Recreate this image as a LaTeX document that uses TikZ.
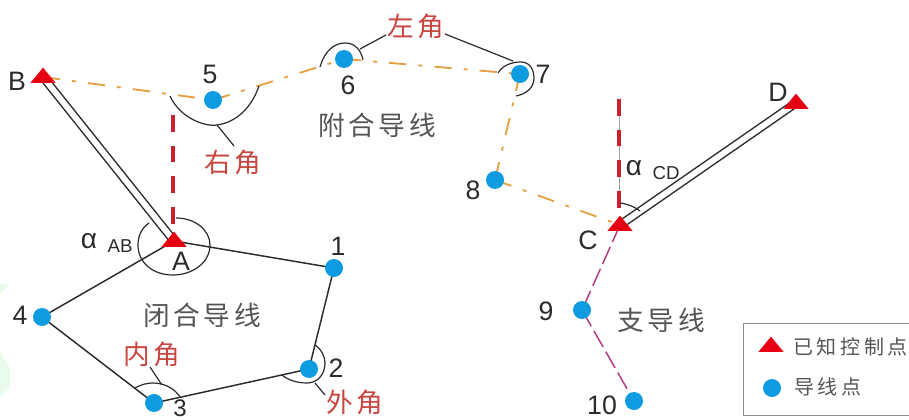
\documentclass[tikz,border=0pt]{standalone}
\usepackage{fontspec}
\setmainfont{Liberation Sans}
\newfontfamily\cjk[LetterSpace=14]{Noto Sans CJK SC}
\newfontfamily\cjksmall[LetterSpace=18]{Noto Sans CJK SC}
\usetikzlibrary{shapes.geometric,backgrounds}
\definecolor{ptblue}{HTML}{0F9BE0}
\definecolor{ptred}{HTML}{E60012}
\definecolor{dashred}{HTML}{C8202E}
\definecolor{lblred}{HTML}{C9453F}
\definecolor{ptorange}{HTML}{E5A144}
\definecolor{ptmag}{HTML}{B23A80}
\definecolor{inkc}{HTML}{2B2B2B}
\definecolor{grayc}{HTML}{555555}
\definecolor{wmgreen}{HTML}{E9FCEB}
\tikzset{
  x=0.75pt,y=-0.75pt,
  ctrl/.style={isosceles triangle,isosceles triangle stretches,shape border rotate=90,fill=ptred,draw=none,
     minimum height=11.5pt,minimum width=19pt,inner sep=0pt,outer sep=0pt},
  trav/.style={circle,fill=ptblue,draw=none,minimum size=13.5pt,inner sep=0pt,outer sep=0pt},
  lab/.style={font=\fontsize{20}{22}\selectfont,text=inkc,inner sep=0pt},
  sublab/.style={font=\fontsize{14}{16}\selectfont,text=inkc,inner sep=0pt},
  alpha/.style={font=\fontsize{21}{22}\selectfont,text=inkc,inner sep=0pt},
  redlab/.style={font=\cjk\fontsize{20}{22}\selectfont,text=lblred,inner sep=0pt},
  graylab/.style={font=\cjk\fontsize{20}{22}\selectfont,text=grayc,inner sep=0pt},
  leglab/.style={font=\cjksmall\fontsize{15}{17}\selectfont,text=grayc,inner sep=0pt},
  known/.style={draw=inkc,line width=1.1pt,double=white,double distance=4.4pt},
  solidl/.style={draw=inkc,line width=1.1pt},
  arcl/.style={draw=inkc,line width=0.9pt},
  orangel/.style={draw=ptorange,line width=1.4pt,dash pattern=on 13pt off 9pt on 3pt off 9pt},
  magl/.style={draw=ptmag,line width=1.1pt,dash pattern=on 14pt off 4pt},
  redl/.style={draw=dashred,line width=2.8pt,dash pattern=on 12.5pt off 10.5pt},
}
\begin{document}
\begin{tikzpicture}
\useasboundingbox (0,0) rectangle (909,420);
% faint remnants at the left edge
\fill[wmgreen] (0,284) -- (9,284) -- (0,295) -- cycle;
\fill[wmgreen] (0,352) -- (10,368) -- (10,387) -- (0,397) -- cycle;
% points
\node[ctrl] (B) at (43,77) {};
\node[ctrl] (A) at (174,241) {};
\node[ctrl] (C) at (620,225) {};
\node[ctrl] (D) at (796,103) {};
\node[trav] (p1) at (334,268) {};
\node[trav] (p2) at (309,369) {};
\node[trav] (p3) at (154,403) {};
\node[trav] (p4) at (42,317) {};
\node[trav] (p5) at (213,100) {};
\node[trav] (p6) at (344,59) {};
\node[trav] (p7) at (520,74) {};
\node[trav] (p8) at (495,180) {};
\node[trav] (p9) at (582,310) {};
\node[trav] (p10) at (634,401) {};
\coordinate (northA) at (173,115);
\coordinate (northAend) at (173,226);
\coordinate (northC) at (619,99);
\coordinate (northCend) at (619,208);
% legend
\node[draw=black!45,line width=0.7pt,inner sep=0pt,fill=white,
  minimum width=128.25pt,minimum height=69pt,anchor=north west] (leg) at (743,323) {};
\node[ctrl] (legT) at (771,346) {};
\node[trav] (legC) at (772,388) {};
\node[leglab,anchor=west] (legt1) at (793,347) {已知控制点};
\node[leglab,anchor=west] (legt2) at (794,387) {导线点};
% labels
\node[lab] (lB) at (17,81) {B};
\node[lab] (lA) at (181,261) {A};
\node[lab] (lC) at (588,240) {C};
\node[lab] (lD) at (778,92) {D};
\node[lab] (l1) at (338,246) {1};
\node[lab] (l2) at (336,368) {2};
\node[lab,font=\fontsize{18}{20}\selectfont] (l3) at (180,408) {3};
\node[lab] (l4) at (20,315) {4};
\node[lab] (l5) at (210,74) {5};
\node[lab] (l6) at (348,85) {6};
\node[lab] (l7) at (543,74) {7};
\node[lab] (l8) at (473,190) {8};
\node[lab] (l9) at (546,311) {9};
\node[lab] (l10) at (602,405) {10};
\node[alpha] (aAB) at (89,241) {α};
\node[sublab] (sAB) at (120,246) {AB};
\node[alpha] (aCD) at (634,168) {α};
\node[sublab] (sCD) at (666,173) {CD};
\node[redlab] (zuo) at (416,26) {左角};
\node[redlab] (you) at (233,162) {右角};
\node[redlab] (nei) at (152,354) {内角};
\node[redlab] (wai) at (355,402) {外角};
\node[graylab] (fu) at (377,125) {附合导线};
\node[graylab] (bi) at (202,315) {闭合导线};
\node[graylab] (zhi) at (661,320) {支导线};
\begin{scope}[on background layer]
  % known directions
  \draw[known] (B.center) -- (A.center);
  \draw[known] (C.center) -- (D.center);
  % north lines
  \draw[draw=gray!70,line width=0.5pt] (northC) -- (northCend);
  \draw[redl] (northA) -- (northAend);
  \draw[redl] (northC) -- (northCend);
  % closed traverse
  \draw[solidl] (A.center) -- (p1.center) -- (p2.center) -- (p3.center) -- (p4.center) -- (A.center);
  % connecting traverse
  \draw[orangel] (B.center) -- (p5.center);
  \draw[orangel] (p5.center) -- (p6.center);
  \draw[orangel] (p6.center) -- (p7.center);
  \draw[orangel] (p7.center) -- (p8.center);
  \draw[orangel] (p8.center) -- (C.center);
  % open traverse
  \draw[magl] (C.center) -- (p9.center);
  \draw[magl] (p9.center) -- (p10.center);
  % angle arcs
  \draw[arcl] (170,96) .. controls (180,118) and (205,127) .. (217,125) .. controls (238,122) and (252,106) .. (259,86);
  \draw[arcl] (217,125) -- (234,146);
  \draw[arcl] (320,67) .. controls (325,50) and (335,43) .. (345,43) .. controls (355,43) and (361,50) .. (363,60);
  \draw[arcl] (360,49) -- (386,35);
  \draw[arcl] (445,34) -- (513,61);
  \draw[arcl] (498,73) .. controls (503,65) and (512,62) .. (521,62) .. controls (530,62) and (534,70) .. (534,78) .. controls (534,88) and (526,94) .. (516,96);
  \draw[arcl] (176,218) .. controls (195,218) and (210,230) .. (210,245) .. controls (210,263) and (192,275) .. (173,275) .. controls (152,275) and (138,262) .. (138,245) .. controls (138,235) and (142,228) .. (149,223);
  \draw[arcl] (315,345) .. controls (322,350) and (325,357) .. (325,363) .. controls (325,375) and (317,383) .. (307,383) .. controls (297,383) and (288,380) .. (282,375);
  \draw[arcl] (315,383) -- (325,395);
  \draw[arcl] (135,388) .. controls (142,384) and (148,383) .. (153,383) .. controls (165,383) and (175,389) .. (180,397);
  \draw[arcl] (150,367) -- (162,385);
  \draw[arcl] (620,203) .. controls (628,204) and (635,207) .. (640,211);
\end{scope}
\end{tikzpicture}
\end{document}
